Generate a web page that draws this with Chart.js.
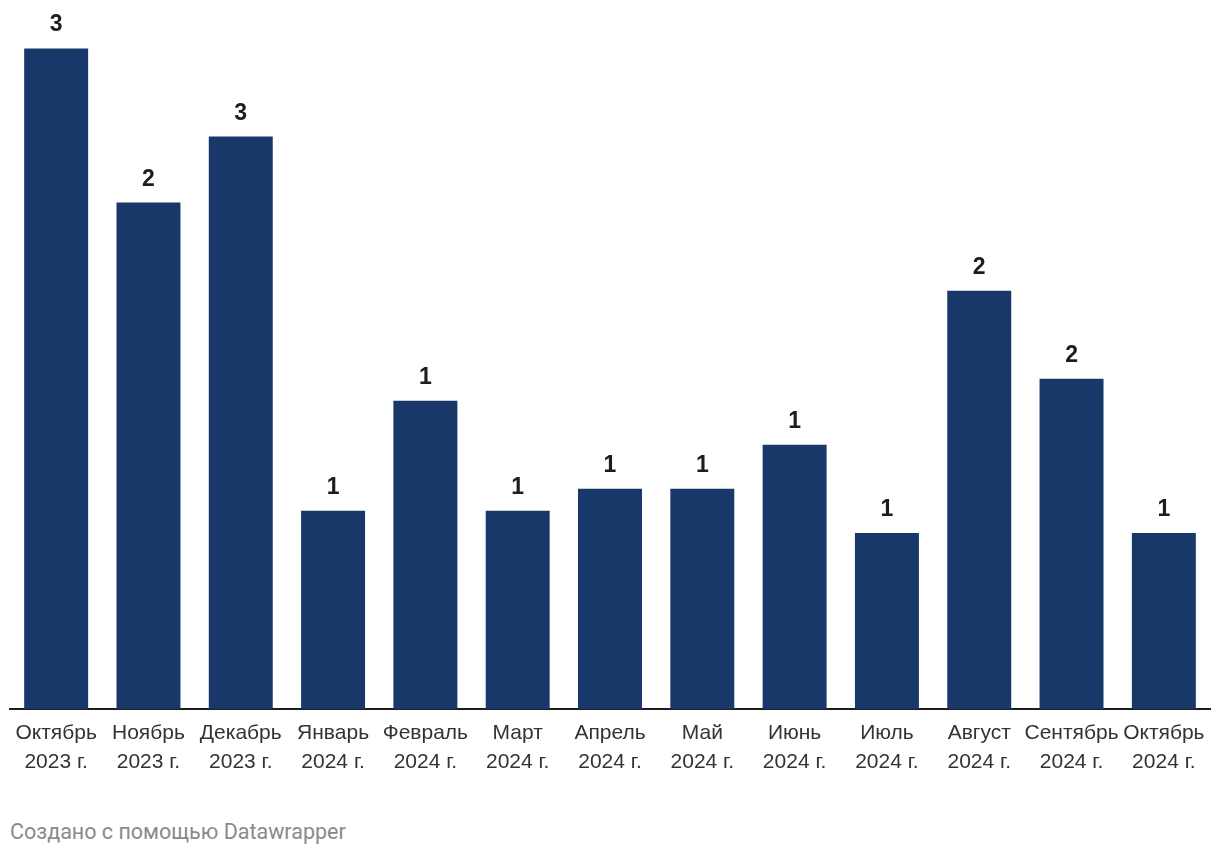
<!DOCTYPE html>
<html>
<head>
<meta charset="utf-8">
<script src="https://cdn.jsdelivr.net/npm/chart.js@4"></script>
<style>
  body { margin: 0; background: #fff; }
  #wrap { position: relative; width: 1220px; height: 856px; }
  #footer {
    position: absolute; left: 10px; top: 819px;
    font: 21.5px Roboto, sans-serif; color: #8a8a8a;
  }
</style>
</head>
<body>
<div id="wrap">
  <canvas id="myChart" width="1220" height="800"></canvas>
  <div id="footer">Создано с помощью Datawrapper</div>
</div>
<script>
const ctx = document.getElementById("myChart");

const months = ["Октябрь", "Ноябрь", "Декабрь", "Январь", "Февраль", "Март", "Апрель",
  "Май", "Июнь", "Июль", "Август", "Сентябрь", "Октябрь"];
const years = ["2023 г.", "2023 г.", "2023 г.", "2024 г.", "2024 г.", "2024 г.", "2024 г.",
  "2024 г.", "2024 г.", "2024 г.", "2024 г.", "2024 г.", "2024 г."];
const values = [3.0, 2.3, 2.6, 0.9, 1.4, 0.9, 1.0, 1.0, 1.2, 0.8, 1.9, 1.5, 0.8];

const labels = months.map((m, i) => [m, years[i]]);

// value labels above bars, rounded like the original
const valueLabels = {
  id: "valueLabels",
  afterDatasetsDraw(chart) {
    const c = chart.ctx;
    const meta = chart.getDatasetMeta(0);
    c.save();
    c.font = "bold 23px 'Liberation Sans', Arial, sans-serif";
    c.fillStyle = "#1d1d1d";
    c.textAlign = "center";
    c.textBaseline = "alphabetic";
    meta.data.forEach((bar, i) => {
      c.fillText(Math.round(values[i]), bar.x, bar.y - 17);
    });
    c.restore();
  },
};

const myChart = new Chart(ctx, {
  type: "bar",
  data: {
    labels: labels,
    datasets: [
      {
        data: values,
        backgroundColor: "#19386a",
        categoryPercentage: 1,
        barPercentage: 0.693,
      },
    ],
  },
  plugins: [valueLabels],
  options: {
    responsive: false,
    animation: false,
    layout: { padding: { left: 10, right: 10, top: 0, bottom: 13 } },
    plugins: {
      legend: { display: false },
      tooltip: { enabled: false },
    },
    scales: {
      x: {
        grid: { display: false, drawTicks: false },
        border: { display: true, color: "#1d1d1d", width: 2 },
        ticks: {
          color: "#333",
          font: { family: "'Liberation Sans', Arial, sans-serif", size: 21, lineHeight: 1.38 },
          padding: 10,
          autoSkip: false,
          maxRotation: 0,
          minRotation: 0,
        },
      },
      y: {
        display: false,
        min: 0,
        max: 3.22,
      },
    },
  },
});
</script>
</body>
</html>
